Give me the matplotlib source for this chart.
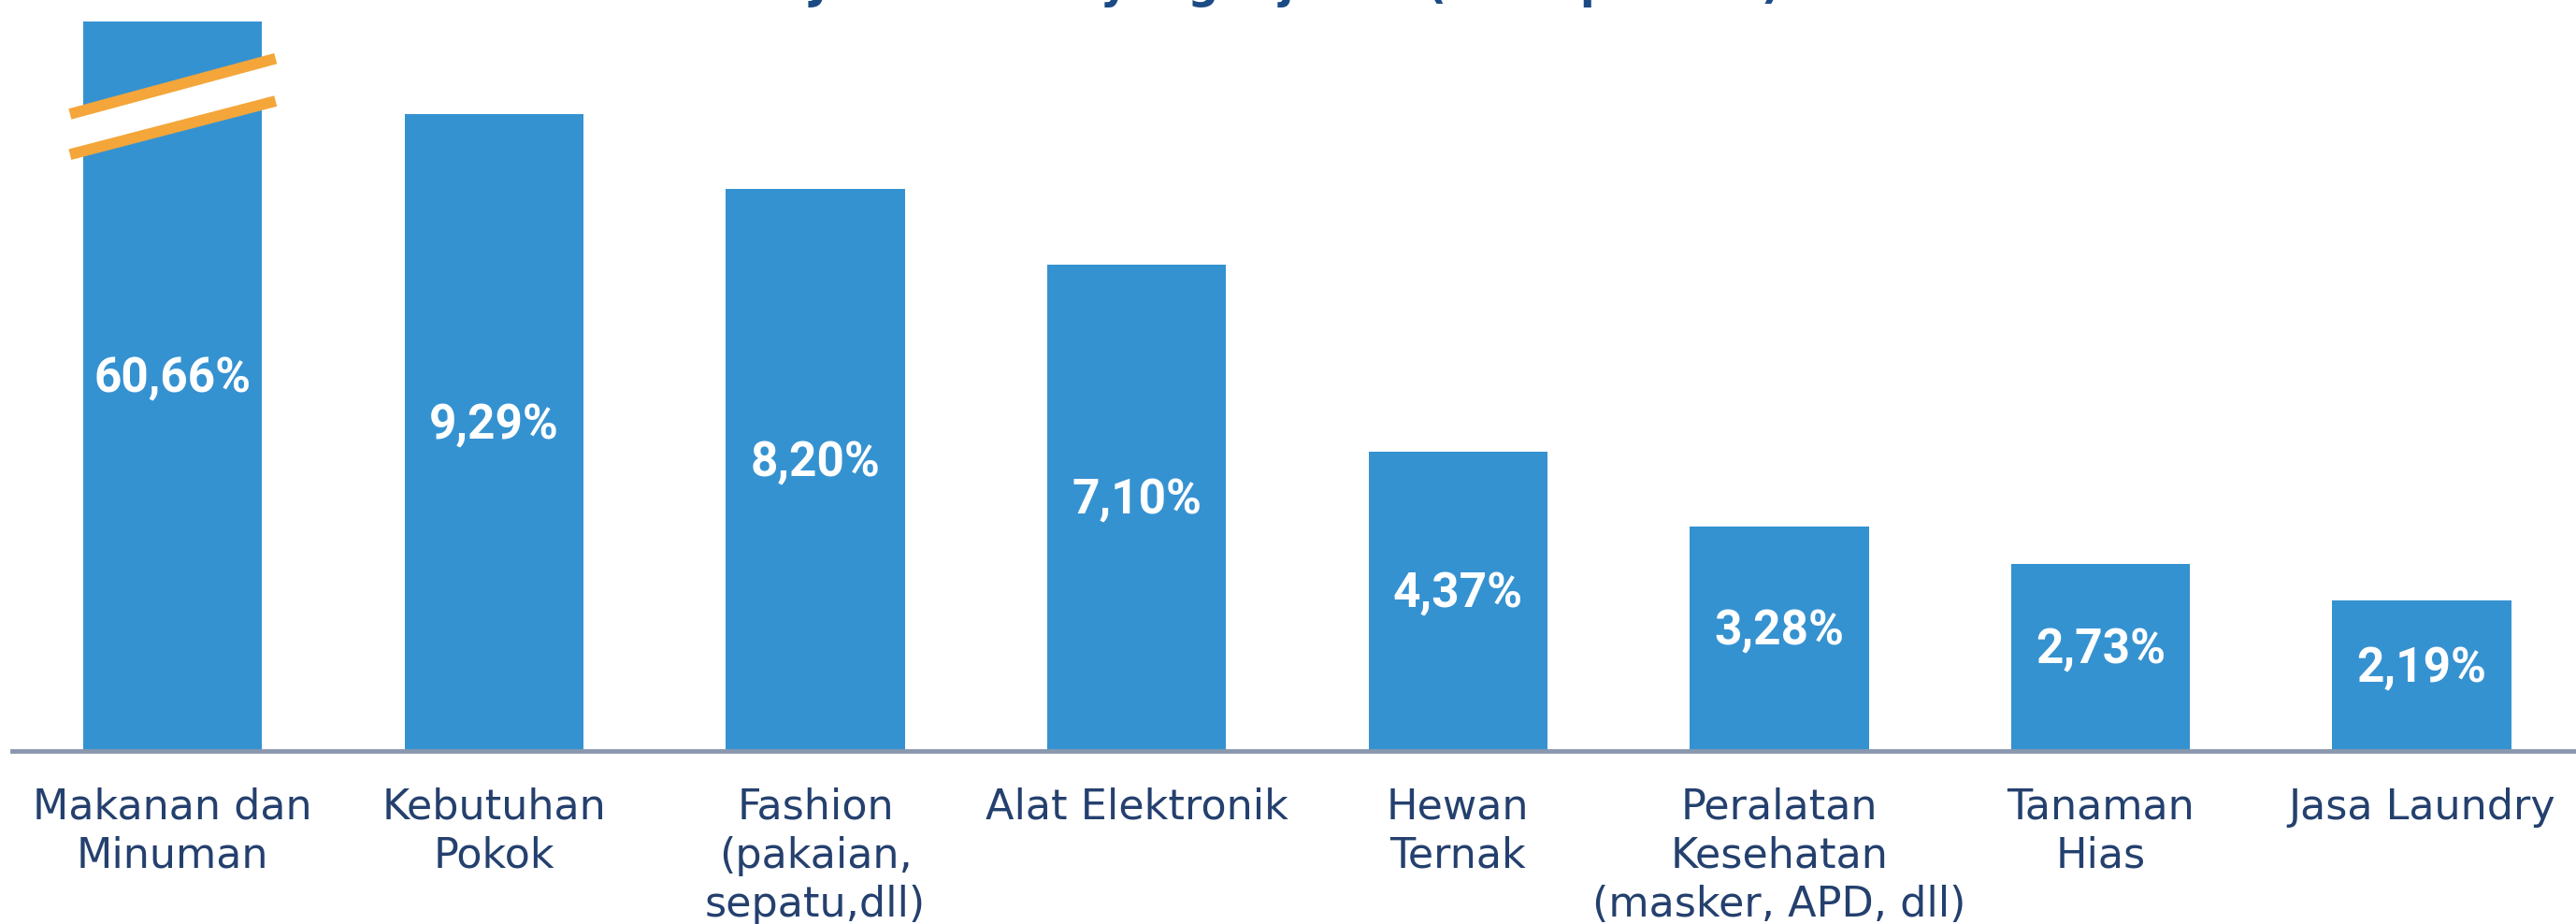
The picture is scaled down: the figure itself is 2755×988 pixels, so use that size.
import matplotlib.pyplot as plt
from matplotlib.patches import Polygon

categories = [
    "Makanan dan\nMinuman",
    "Kebutuhan\nPokok",
    "Fashion\n(pakaian,\nsepatu,dll)",
    "Alat Elektronik",
    "Hewan\nTernak",
    "Peralatan\nKesehatan\n(masker, APD, dll)",
    "Tanaman\nHias",
    "Jasa Laundry",
]
values = [60.66, 9.29, 8.20, 7.10, 4.37, 3.28, 2.73, 2.19]
title = "Jenis usaha yang dijalani (% responden)"

# y axis is cut so the small bars stay readable; the first bar gets a break mark
y_max = 10.64

bar_color = "#3592d1"
label_color = "#24406e"
break_color = "#f4a63a"

W, H = 2755, 988
fig = plt.figure(figsize=(W / 100, H / 100), dpi=100)
ax = fig.add_axes([13 / W, 185 / H, 1 - 13 / W, 780 / H])

x = list(range(len(values)))
ax.bar(x, values, width=0.557, color=bar_color, zorder=2)
ax.set_xlim(-0.5, 7.48)
ax.set_ylim(0, y_max)

for s in ["left", "right", "top"]:
    ax.spines[s].set_visible(False)
ax.spines["bottom"].set_color("#8a98ae")
ax.spines["bottom"].set_linewidth(3.5)
ax.spines["bottom"].set_zorder(3)
ax.set_yticks([])
ax.set_xticks(x)
ax.set_xticklabels(categories, fontsize=32, color=label_color,
                   family="DejaVu Sans", linespacing=1.26)
ax.tick_params(axis="x", length=0, pad=28)

# value labels in the middle of the visible part of each bar
for xi, v in zip(x, values):
    shown = min(v, y_max)
    txt = f"{v:.2f}".replace(".", ",") + "%"
    ax.text(xi, shown / 2 + 0.1, txt, ha="center", va="center",
            color="white", fontsize=37, fontweight="bold", family="Roboto",
            zorder=4)

# break mark across the first bar
bx0, bx1 = -0.32, 0.32
upper = (9.29, 10.10)
lower = (8.70, 9.48)
gap = Polygon([(bx0, lower[0]), (bx1, lower[1]), (bx1, upper[1]), (bx0, upper[0])],
              closed=True, facecolor="white", edgecolor="none", zorder=5)
ax.add_patch(gap)
for y0, y1 in (upper, lower):
    ax.plot([bx0, bx1], [y0, y1], color=break_color, lw=8.5,
            solid_capstyle="butt", zorder=6)

fig.text(0.503, 1.002, title, ha="center", va="baseline", fontsize=33,
         fontweight="bold", color="#1b4a85")

fig.savefig("out.png", dpi=100)
